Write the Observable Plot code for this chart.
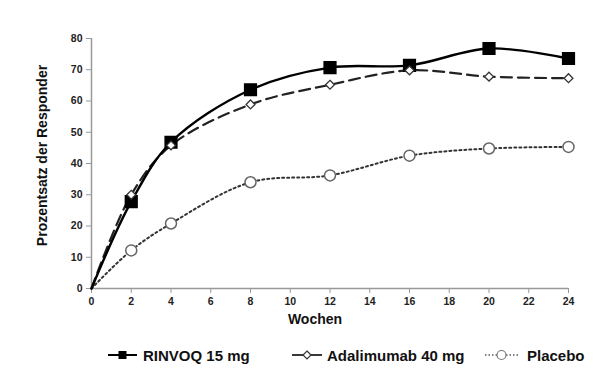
<!DOCTYPE html>
<html><head><meta charset="utf-8">
<script src="https://cdn.jsdelivr.net/npm/d3@7"></script>
<script src="https://cdn.jsdelivr.net/npm/@observablehq/plot@0.6"></script>
<style>
body{margin:0;background:#fff;font-family:"Liberation Sans",Arial,sans-serif;}
#wrap{position:relative;width:601px;height:377px;}
#legend{position:absolute;left:0;top:344px;width:601px;height:22px;font-weight:bold;font-size:15px;color:#111;}
.item{position:absolute;top:0;display:flex;align-items:center;height:22px;white-space:nowrap;}
.item svg{flex:none;}
</style></head>
<body><div id="wrap"><div id="chart"></div><div id="legend"></div></div>
<script>
const weeks = [0, 2, 4, 8, 12, 16, 20, 24];
const rinvoq = [0, 27.8, 46.8, 63.6, 70.7, 71.4, 76.8, 73.6];
const adalimumab = [0, 30, 45.8, 58.9, 65.2, 69.8, 67.8, 67.3];
const placebo = [0, 12.2, 20.8, 34, 36.2, 42.5, 44.8, 45.3];
const seriesNames = ["RINVOQ 15 mg", "Adalimumab 40 mg", "Placebo"];
const xTicks = d3.range(0, 25, 2);
const yTicks = d3.range(0, 81, 10);

const rows = (vals, s) => weeks.map((w, i) => ({week: w, value: vals[i], series: s}));
const dR = rows(rinvoq, seriesNames[0]);
const dA = rows(adalimumab, seriesNames[1]);
const dP = rows(placebo, seriesNames[2]);

const chart = Plot.plot({
  width: 601, height: 335,
  marginLeft: 91, marginRight: 33, marginTop: 38, marginBottom: 47,
  style: {fontFamily: "Liberation Sans, Arial, sans-serif", background: "#fff"},
  x: {domain: [0, 24]},
  y: {domain: [0, 80]},
  marks: [
    Plot.axisX({ticks: xTicks, tickSize: 5, tickPadding: 4, stroke: "#999", fontSize: 10.5, fontWeight: "bold", color: "#222", label: null}),
    Plot.axisY({ticks: yTicks, tickSize: 5, tickPadding: 4, stroke: "#999", fontSize: 10.5, fontWeight: "bold", color: "#222", label: null}),
    Plot.ruleX([0], {stroke: "#999", strokeWidth: 1.5}),
    Plot.ruleY([0], {stroke: "#999", strokeWidth: 1.5}),
    Plot.text(["Wochen"], {frameAnchor: "bottom", textAnchor: "middle", dx: -15, dy: 35, fontSize: 14, fontWeight: "bold", fill: "#111"}),
    Plot.text(["Prozentsatz der Responder"], {frameAnchor: "left", textAnchor: "middle", dx: -49, dy: -8, rotate: -90, fontSize: 14, fontWeight: "bold", fill: "#111"}),
    Plot.line(dP, {x: "week", y: "value", curve: "catmull-rom", stroke: "#333", strokeWidth: 2, strokeDasharray: "2,3"}),
    Plot.line(dA, {x: "week", y: "value", curve: "catmull-rom", stroke: "#222", strokeWidth: 2.2, strokeDasharray: "11,6"}),
    Plot.line(dR, {x: "week", y: "value", curve: "catmull-rom", stroke: "#000", strokeWidth: 2.4}),
    Plot.dot(dP.filter(d => d.week > 0), {x: "week", y: "value", r: 5.5, fill: "#fff", stroke: "#666", strokeWidth: 1.5}),
    Plot.dot(dR.filter(d => d.week > 0), {x: "week", y: "value", symbol: "square", r: 6.6, fill: "#000", stroke: "#000"}),
    Plot.dot(dA.filter(d => d.week > 0), {x: "week", y: "value", symbol: "diamond2", r: 4, fill: "#fff", stroke: "#333", strokeWidth: 1.3})
  ]
});
document.getElementById("chart").appendChild(chart);

// Legend
const legend = d3.select("#legend");
const items = [
  {name: seriesNames[0], left: 108, w: 29, gap: 6, draw: g => {
    g.append("line").attr("x1",0).attr("x2",29).attr("y1",11).attr("y2",11).attr("stroke","#000").attr("stroke-width",2);
    g.append("rect").attr("x",10.5).attr("y",7).attr("width",8).attr("height",8).attr("fill","#000");
  }},
  {name: seriesNames[1], left: 292, w: 30, gap: 5, draw: g => {
    g.append("line").attr("x1",0).attr("x2",30).attr("y1",11).attr("y2",11).attr("stroke","#222").attr("stroke-width",1.8);
    g.append("path").attr("d","M15,7L19,11L15,15L11,11Z").attr("fill","#fff").attr("stroke","#333").attr("stroke-width",1.2);
  }},
  {name: seriesNames[2], left: 485, w: 33, gap: 9, draw: g => {
    g.append("line").attr("x1",0).attr("x2",33).attr("y1",11).attr("y2",11).attr("stroke","#555").attr("stroke-width",1.5).attr("stroke-dasharray","1.5,2");
    g.append("circle").attr("cx",16.5).attr("cy",11).attr("r",4.5).attr("fill","#fff").attr("stroke","#777").attr("stroke-width",1.2);
  }}
];
items.forEach(it => {
  const div = legend.append("div").attr("class","item").style("left", it.left + "px");
  const svg = div.append("svg").attr("width", it.w).attr("height", 22).style("margin-right", it.gap + "px");
  it.draw(svg);
  div.append("span").text(it.name);
});
</script></body></html>
